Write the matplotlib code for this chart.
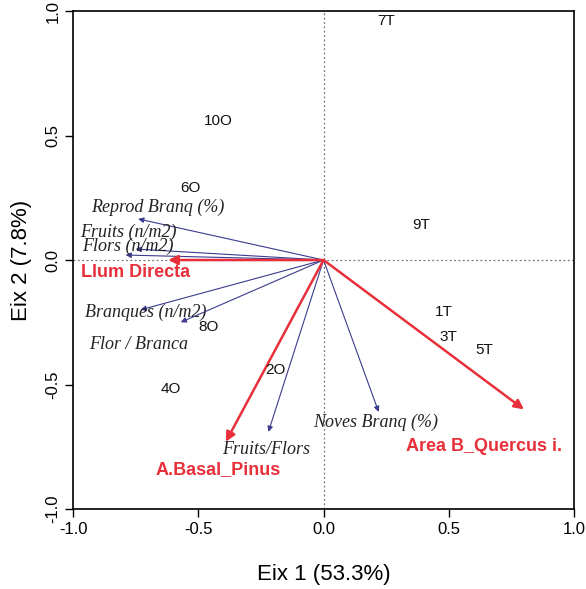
import matplotlib
matplotlib.use("Agg")
import matplotlib.pyplot as plt

# site scores
sites = ['7T', '10O', '6O', '9T', '1T', '3T', '5T', '8O', '2O', '4O']
site_x = [0.25, -0.42, -0.53, 0.39, 0.48, 0.50, 0.64, -0.46, -0.19, -0.61]
site_y = [0.96, 0.56, 0.29, 0.14, -0.21, -0.31, -0.36, -0.27, -0.44, -0.52]

# response variables (blue arrows)
vars_names = ['Reprod Branq (%)', 'Fruits (n/m2)', 'Flors (n/m2)', 'Branques (n/m2)',
              'Flor / Branca', 'Fruits/Flors', 'Noves Branq (%)']
vars_x = [-0.74, -0.75, -0.79, -0.73, -0.57, -0.22, 0.22]
vars_y = [0.165, 0.044, 0.02, -0.20, -0.25, -0.69, -0.61]
vars_lx = [-0.66, -0.78, -0.78, -0.71, -0.74, -0.23, 0.21]
vars_ly = [0.21, 0.11, 0.056, -0.21, -0.34, -0.76, -0.65]

# explanatory variables (red arrows)
env_names = ['Llum Directa', 'A.Basal_Pinus', 'Area B_Quercus i.']
env_x = [-0.62, -0.39, 0.80]
env_y = [0.0, -0.73, -0.60]
env_lx = [-0.75, -0.42, 0.64]
env_ly = [-0.05, -0.84, -0.75]

red = '#e8303a'
blue = '#3b3b8f'

fig = plt.figure(figsize=(5.86, 5.89), dpi=100)
ax = fig.add_axes([0.1246, 0.1358, 0.855, 0.8455])

ax.axhline(0, color='#777777', linestyle=(0, (1.5, 2)), linewidth=0.9, zorder=1)
ax.axvline(0, color='#777777', linestyle=(0, (1.5, 2)), linewidth=0.9, zorder=1)

for i in range(len(vars_names)):
    ax.annotate('', xy=(vars_x[i], vars_y[i]), xytext=(0, 0),
                arrowprops=dict(arrowstyle='-|>', color=blue, lw=0.8,
                                mutation_scale=8, shrinkA=0, shrinkB=0))
    ax.text(vars_lx[i], vars_ly[i], vars_names[i], ha='center', va='center',
            family='Liberation Serif', style='italic', fontsize=13, color='#222222')

for i in range(len(env_names)):
    ax.annotate('', xy=(env_x[i], env_y[i]), xytext=(0, 0),
                arrowprops=dict(arrowstyle='-|>', color=red, lw=1.8,
                                mutation_scale=14, shrinkA=0, shrinkB=0))
    ax.text(env_lx[i], env_ly[i], env_names[i], ha='center', va='center',
            family='Liberation Sans', weight='bold', fontsize=13, color=red)

for i in range(len(sites)):
    ax.text(site_x[i], site_y[i], sites[i], ha='center', va='center',
            family='Liberation Sans', fontsize=11, color='#111111')

ax.set_xlim(-1, 1)
ax.set_ylim(-1, 1)
ticks = [-1.0, -0.5, 0.0, 0.5, 1.0]
ax.set_xticks(ticks)
ax.set_yticks(ticks)
ax.set_xticklabels(['%.1f' % t for t in ticks])
ax.set_yticklabels(['%.1f' % t for t in ticks], rotation=90, va='center')
ax.tick_params(direction='out', length=6, width=1, labelsize=12, pad=3)
for lab in ax.get_xticklabels() + ax.get_yticklabels():
    lab.set_family('Liberation Sans')
for s in ax.spines.values():
    s.set_linewidth(1.2)

ax.set_xlabel('Eix 1 (53.3%)', family='Liberation Sans', fontsize=16, labelpad=20)
ax.set_ylabel('Eix 2 (7.8%)', family='Liberation Sans', fontsize=16, labelpad=10)

fig.savefig('out.png', dpi=100)
